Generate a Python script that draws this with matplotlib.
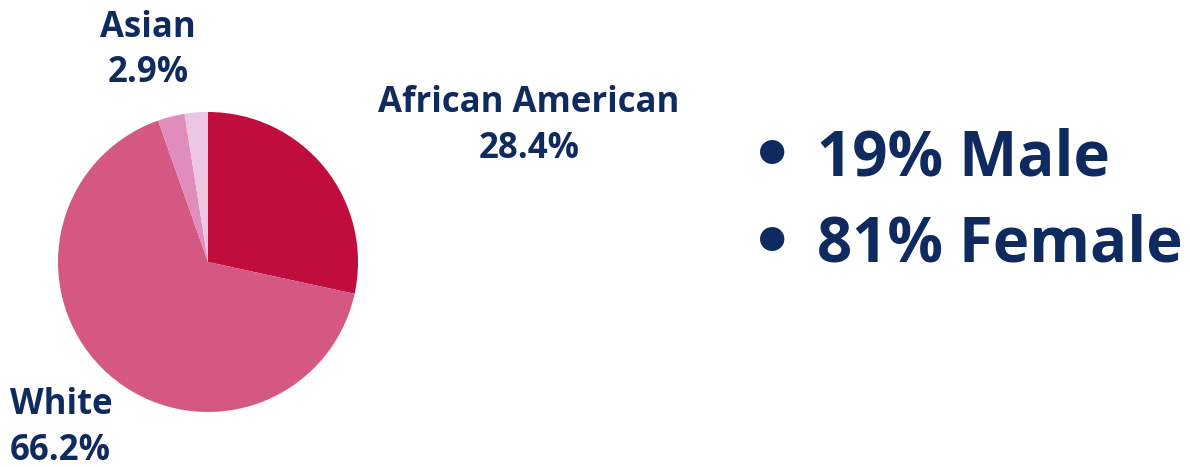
import matplotlib
matplotlib.use("Agg")
import matplotlib.pyplot as plt

labels = ["African American", "White", "Asian", "Other"]
values = [28.4, 66.2, 2.9, 2.5]
colors = ["#C00D3E", "#D45882", "#E08DBE", "#EDC6E2"]
stats = ["19% Male", "81% Female"]

W, H = 1190, 467
fig = plt.figure(figsize=(W / 100, H / 100), dpi=100)
fig.patch.set_facecolor("white")
navy = "#0E2A5E"
font = "Open Sans"

cx, cy, r = 208, 262, 150
ax = fig.add_axes([(cx - r) / W, (H - cy - r) / H, 2 * r / W, 2 * r / H])
ax.pie(values, colors=colors, startangle=90, counterclock=False,
       wedgeprops=dict(linewidth=0))
ax.set_xlim(-1, 1)
ax.set_ylim(-1, 1)
ax.axis("off")

def ftext(x, y, s, size, ha="center", family=font):
    fig.text(x / W, 1 - y / H, s, fontsize=size, fontweight="bold",
             family=family, color=navy, ha=ha, va="baseline")

val = dict(zip(labels, values))
ftext(148, 37, "Asian", 25)
ftext(148, 82, f"{val['Asian']}%", 25)
ftext(529, 112, "African American", 25)
ftext(529, 158, f"{val['African American']}%", 25)
ftext(10, 414, "White", 25, ha="left")
ftext(10, 460, f"{val['White']}%", 25, ha="left")

for s, y in zip(stats, [175, 262]):
    ftext(750, y + 3, "•", 50, ha="left", family="DejaVu Sans")
    ftext(817, y, s, 44.5, ha="left")

fig.savefig("out.png", dpi=100, facecolor="white")
